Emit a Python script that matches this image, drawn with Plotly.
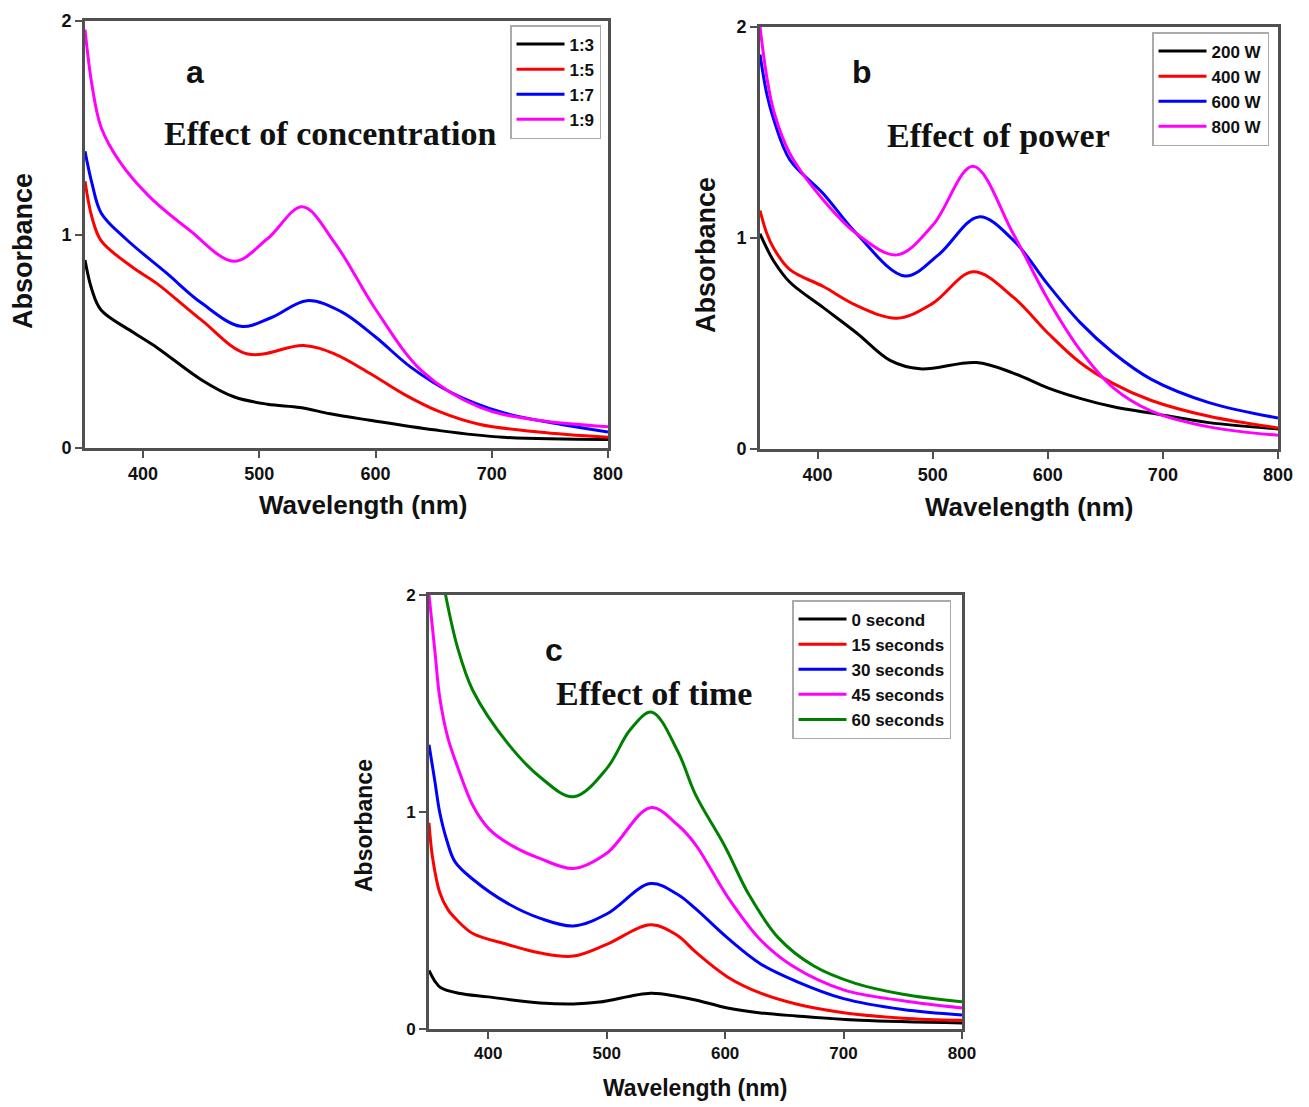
import plotly.graph_objects as go

# ---------------- data (wavelength in nm, absorbance) ----------------
# (a) Effect of concentration
CONC_NAMES = ["1:3", "1:5", "1:7", "1:9"]
WL_13 = [350, 356, 364, 392, 412, 450, 478, 507, 535, 561, 595, 650, 710, 800]
AB_13 = [0.88, 0.74, 0.645, 0.54, 0.47, 0.32, 0.24, 0.205, 0.19, 0.16, 0.13, 0.085, 0.05, 0.04]
WL_15 = [350, 356, 364, 390, 412, 450, 490, 538, 565, 595, 625, 655, 690, 740, 800]
AB_15 = [1.25, 1.08, 0.97, 0.85, 0.77, 0.60, 0.44, 0.48, 0.44, 0.35, 0.25, 0.17, 0.11, 0.075, 0.05]
WL_17 = [350, 356, 364, 385, 420, 450, 484, 510, 541, 570, 600, 630, 665, 710, 760, 800]
AB_17 = [1.39, 1.24, 1.10, 0.98, 0.82, 0.68, 0.57, 0.61, 0.69, 0.64, 0.52, 0.38, 0.26, 0.165, 0.11, 0.075]
WL_19 = [350, 356, 364, 380, 405, 440, 478, 507, 537, 565, 600, 640, 690, 740, 800]
AB_19 = [1.96, 1.70, 1.50, 1.34, 1.18, 1.02, 0.875, 0.98, 1.13, 0.96, 0.65, 0.36, 0.19, 0.13, 0.10]

# (b) Effect of power
POWER_NAMES = ["200 W", "400 W", "600 W", "800 W"]
WL_200 = [350, 356, 362, 376, 405, 434, 463, 489, 538, 570, 600, 628, 657, 690, 740, 800]
AB_200 = [1.02, 0.95, 0.89, 0.79, 0.67, 0.55, 0.42, 0.38, 0.41, 0.36, 0.29, 0.24, 0.20, 0.17, 0.125, 0.095]
WL_400 = [350, 356, 362, 376, 405, 434, 469, 500, 535, 570, 600, 628, 657, 690, 740, 800]
AB_400 = [1.13, 1.02, 0.95, 0.85, 0.77, 0.68, 0.62, 0.69, 0.84, 0.72, 0.55, 0.41, 0.31, 0.23, 0.155, 0.10]
WL_600 = [350, 356, 362, 376, 405, 434, 476, 505, 540, 570, 600, 628, 657, 690, 740, 800]
AB_600 = [1.87, 1.68, 1.56, 1.37, 1.21, 1.02, 0.82, 0.92, 1.10, 0.99, 0.78, 0.60, 0.455, 0.33, 0.22, 0.147]
WL_800 = [350, 356, 362, 376, 405, 434, 469, 500, 535, 570, 600, 628, 657, 690, 740, 800]
AB_800 = [2.00, 1.76, 1.60, 1.40, 1.18, 1.02, 0.92, 1.06, 1.34, 1.02, 0.71, 0.47, 0.29, 0.18, 0.105, 0.065]

# (c) Effect of time
TIME_NAMES = ["0 second", "15 seconds", "30 seconds", "45 seconds", "60 seconds"]
WL_T0 = [350, 355, 360, 375, 400, 444, 472, 494, 537, 560, 575, 602, 630, 660, 714, 800]
AB_T0 = [0.27, 0.22, 0.19, 0.165, 0.148, 0.12, 0.115, 0.124, 0.165, 0.15, 0.134, 0.097, 0.074, 0.06, 0.04, 0.028]
WL_T15 = [350, 353, 359, 366, 374, 387, 416, 444, 472, 500, 537, 560, 575, 602, 630, 660, 700, 750, 800]
AB_T15 = [0.95, 0.79, 0.63, 0.55, 0.50, 0.44, 0.39, 0.35, 0.336, 0.39, 0.48, 0.43, 0.355, 0.24, 0.165, 0.115, 0.075, 0.05, 0.04]
WL_T30 = [350, 355, 359, 365, 372, 387, 416, 444, 472, 500, 537, 560, 575, 602, 630, 660, 700, 750, 800]
AB_T30 = [1.31, 1.14, 1.00, 0.87, 0.77, 0.69, 0.58, 0.51, 0.475, 0.53, 0.67, 0.62, 0.555, 0.42, 0.30, 0.22, 0.14, 0.09, 0.065]
WL_T45 = [350, 355, 359, 366, 374, 387, 401, 420, 444, 472, 500, 537, 560, 575, 602, 630, 657, 700, 750, 800]
AB_T45 = [2.00, 1.74, 1.53, 1.34, 1.21, 1.03, 0.92, 0.845, 0.785, 0.74, 0.81, 1.02, 0.94, 0.85, 0.61, 0.41, 0.29, 0.18, 0.13, 0.097]
WL_T60 = [350, 356, 364, 374, 387, 416, 444, 472, 500, 520, 538, 560, 575, 600, 620, 645, 675, 710, 750, 800]
AB_T60 = [2.55, 2.25, 2.00, 1.76, 1.56, 1.32, 1.16, 1.07, 1.20, 1.38, 1.46, 1.28, 1.08, 0.84, 0.62, 0.42, 0.29, 0.21, 0.16, 0.125]

X_TICKS = [400, 500, 600, 700, 800]
Y_TICKS = [0, 1, 2]

# ---------------- style ----------------
COLORS4 = ["#000000", "#ff0000", "#0000ff", "#ff00ff"]
COLORS5 = ["#000000", "#ff0000", "#0000ff", "#ff00ff", "#008000"]
SANS = "Liberation Sans"
SERIF = "Liberation Serif"
AXC = "#505050"
W, H = 1309, 1107

fig = go.Figure()

def add_series(pairs, names, colors, xa, ya, legend):
    for (xs, ys), nm, c in zip(pairs, names, colors):
        fig.add_trace(go.Scatter(x=xs, y=ys, name=nm, mode="lines",
                                 line=dict(color=c, width=3, shape="spline", smoothing=1.0),
                                 xaxis=xa, yaxis=ya, legend=legend))

add_series([(WL_13, AB_13), (WL_15, AB_15), (WL_17, AB_17), (WL_19, AB_19)],
           CONC_NAMES, COLORS4, "x", "y", "legend")
add_series([(WL_200, AB_200), (WL_400, AB_400), (WL_600, AB_600), (WL_800, AB_800)],
           POWER_NAMES, COLORS4, "x2", "y2", "legend2")
add_series([(WL_T0, AB_T0), (WL_T15, AB_T15), (WL_T30, AB_T30), (WL_T45, AB_T45), (WL_T60, AB_T60)],
           TIME_NAMES, COLORS5, "x3", "y3", "legend3")

def px_dom(x0, x1):
    return [x0 / W, x1 / W]

def py_dom(ytop, ybot):
    return [1 - ybot / H, 1 - ytop / H]

def xax(dom, anchor, tsize):
    return dict(domain=dom, anchor=anchor, range=[350, 800], tickvals=X_TICKS,
                showline=True, linecolor=AXC, linewidth=3, mirror=True,
                ticks="outside", ticklen=7, tickwidth=2, tickcolor=AXC,
                showgrid=False, zeroline=False, automargin=False,
                tickfont=dict(family=SANS, size=tsize, color="#111", weight="bold"))

def yax(dom, anchor, tsize):
    return dict(domain=dom, anchor=anchor, range=[0, 2], tickvals=Y_TICKS,
                showline=True, linecolor=AXC, linewidth=3, mirror=True,
                ticks="outside", ticklen=7, tickwidth=2, tickcolor=AXC,
                showgrid=False, zeroline=False, automargin=False,
                tickfont=dict(family=SANS, size=tsize, color="#111", weight="bold"))

def leg(xr, yt):
    return dict(x=xr / W, y=1 - yt / H, xanchor="right", yanchor="top",
                bgcolor="white", bordercolor="#aaaaaa", borderwidth=1.5,
                font=dict(family=SANS, size=17, color="#111", weight="bold"),
                itemwidth=48, tracegroupgap=0)

fig.update_layout(
    template="none",
    width=W, height=H, margin=dict(l=0, r=0, t=0, b=0, autoexpand=False),
    paper_bgcolor="white", plot_bgcolor="white", showlegend=True,
    xaxis=xax(px_dom(85, 608), "y", 18),
    yaxis=yax(py_dom(21, 448), "x", 18),
    xaxis2=xax(px_dom(760, 1278), "y2", 18),
    yaxis2=yax(py_dom(27, 449), "x2", 18),
    xaxis3=xax(px_dom(429, 962), "y3", 17),
    yaxis3=yax(py_dom(595, 1029), "x3", 17),
    legend=leg(601, 25),
    legend2=leg(1269, 32),
    legend3=leg(951, 600),
)

def note(text, x, y, xr, yr, fam, size, angle=0):
    fig.add_annotation(text=text, x=x, y=y, xref=xr, yref=yr, showarrow=False,
                       textangle=angle, xanchor="center", yanchor="middle",
                       font=dict(family=fam, size=size, color="#111", weight="bold"))

# panel labels and headings (data coordinates)
note("a", 445, 1.76, "x", "y", SANS, 32)
note("Effect of concentration", 561, 1.475, "x", "y", SERIF, 34)
note("b", 438.6, 1.787, "x2", "y2", SANS, 32)
note("Effect of power", 557.6, 1.488, "x2", "y2", SERIF, 34)
note("c", 455.6, 1.747, "x3", "y3", SANS, 32)
note("Effect of time", 540, 1.548, "x3", "y3", SERIF, 34)

# axis titles (paper coordinates)
def pnote(text, xp, yp, size, angle=0):
    note(text, xp / W, 1 - yp / H, "paper", "paper", SANS, size, angle)

pnote("Wavelength (nm)", 363, 505, 26)
pnote("Absorbance", 23, 251, 27, -90)
pnote("Wavelength (nm)", 1029, 507, 26)
pnote("Absorbance", 706, 255, 27, -90)
pnote("Wavelength (nm)", 695, 1088, 23)
pnote("Absorbance", 364, 826, 23, -90)

fig.write_html("out.html")
